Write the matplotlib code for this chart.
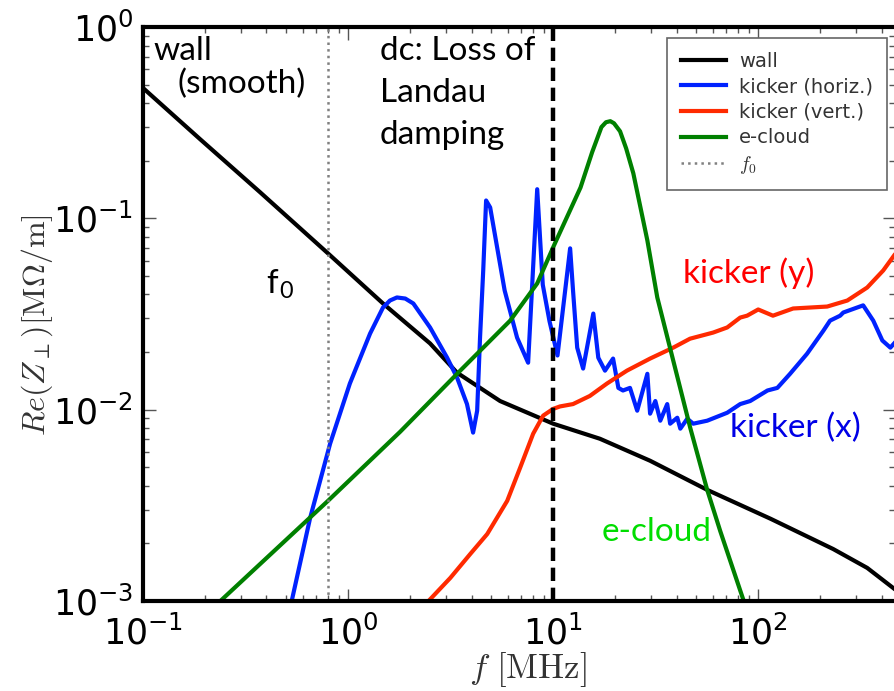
import matplotlib
matplotlib.use('Agg')
import matplotlib.pyplot as plt

plt.rcParams['mathtext.fontset'] = 'cm'
plt.rcParams['axes.unicode_minus'] = False

# frequency in MHz, Re(Z_perp) in MOhm/m
wall_f = [0.1, 0.19, 0.372, 0.798, 1.48, 2.51, 3.40, 5.51, 10.0, 16.9, 29.7, 56.4, 115, 232, 340, 460]
wall_z = [0.480, 0.259, 0.137, 0.0656, 0.0359, 0.0222, 0.0156, 0.0111, 0.00845, 0.00705,
          0.00541, 0.00381, 0.00269, 0.00187, 0.00149, 0.00116]

kick_x_f = [0.533, 0.653, 0.817, 1.02, 1.28, 1.48, 1.60, 1.73, 1.90, 2.08, 2.51, 3.04, 3.40,
            3.80, 4.07, 4.26, 4.40, 4.56, 4.71, 4.93, 5.80, 6.67, 7.55, 8.36, 8.90, 9.60,
            10.5, 12.1, 12.5, 13.1, 14.0, 15.7, 16.6, 17.9, 19.6, 20.8, 21.9, 23.7, 25.7,
            28.8, 29.7, 31.5, 33.3, 36.0, 37.2, 40.3, 41.7, 45.1, 48.2, 56.4, 70.6, 81.7,
            91.4, 111, 124, 143, 173, 208, 224, 251, 260, 325, 364, 403, 441, 460]
kick_x_z = [0.00102, 0.00272, 0.00664, 0.0137, 0.0250, 0.0342, 0.0372, 0.0386, 0.0381, 0.0359,
            0.0269, 0.0187, 0.0147, 0.0107, 0.00759, 0.00988, 0.0238, 0.0534, 0.124, 0.114,
            0.0420, 0.0238, 0.0176, 0.142, 0.0450, 0.0290, 0.0192, 0.0697, 0.0420, 0.0211,
            0.0164, 0.0318, 0.0187, 0.0160, 0.0185, 0.0130, 0.0126, 0.0130, 0.00988, 0.0154,
            0.00953, 0.0111, 0.00876, 0.0107, 0.00845, 0.00908, 0.00796, 0.00897, 0.00845,
            0.00876, 0.00964, 0.0107, 0.0111, 0.0126, 0.0130, 0.0154, 0.0196, 0.0259, 0.0292,
            0.0310, 0.0322, 0.0351, 0.0292, 0.0230, 0.0211, 0.0222]

kick_y_f = [2.51, 3.15, 3.94, 4.77, 5.97, 6.90, 7.99, 8.94, 10.0, 10.8, 12.5, 15.1, 18.3,
            22.9, 29.7, 38.5, 46.5, 60.3, 70.6, 81.7, 88.3, 100, 118, 148, 217, 272, 340,
            407, 460]
kick_y_z = [0.00102, 0.00132, 0.00176, 0.00224, 0.00334, 0.00497, 0.00749, 0.00931, 0.0101,
            0.0104, 0.0107, 0.0118, 0.0137, 0.0160, 0.0185, 0.0211, 0.0235, 0.0253, 0.0269,
            0.0303, 0.0310, 0.0334, 0.0310, 0.0338, 0.0346, 0.0372, 0.0435, 0.0534, 0.0640]

ecloud_f = [0.243, 0.798, 1.795, 3.40, 6.17, 8.36, 10.2, 13.6, 15.5, 17.2, 18.1, 19.0, 19.8,
            21.2, 22.7, 24.6, 28.8, 32.2, 46.6, 56.4, 65.3, 84.5]
ecloud_z = [0.00102, 0.00334, 0.00767, 0.0154, 0.0292, 0.0457, 0.0740, 0.145, 0.222, 0.300,
            0.318, 0.322, 0.314, 0.285, 0.232, 0.172, 0.0767, 0.0386, 0.00805, 0.00381,
            0.00232, 0.00102]

f0 = 0.8        # revolution frequency
f_dc = 10.0     # loss of Landau damping

fig = plt.figure(figsize=(8.94, 6.91), dpi=100)
ax = fig.add_axes([0.16, 0.1302, 0.8412, 0.8307])

ax.plot(wall_f, wall_z, color='black', lw=3, label='wall')
ax.plot(kick_x_f, kick_x_z, color='#0022ff', lw=3, label='kicker (horiz.)')
ax.plot(kick_y_f, kick_y_z, color='#ff2a00', lw=3, label='kicker (vert.)')
ax.plot(ecloud_f, ecloud_z, color='#008000', lw=3, label='e-cloud')
ax.axvline(f0, color='#808080', ls=':', lw=1.8, label='$f_0$')
ax.axvline(f_dc, color='black', ls=(0, (3, 1.5)), lw=3.2, zorder=5)

ax.set_xscale('log')
ax.set_yscale('log')
ax.set_xlim(0.1, 465)
ax.set_ylim(1e-3, 1)

for s in ax.spines.values():
    s.set_linewidth(3)
ax.tick_params(which='both', direction='in', top=True, right=True, color='#555555')
ax.tick_params(which='major', length=9, width=1, labelsize=25, pad=7)
ax.tick_params(which='minor', length=4.5, width=1)
ax.tick_params(axis='x', which='major', pad=10)

ax.set_xlabel(r'$f\ [\mathrm{MHz}]$', fontsize=25, color='#333333')
ax.set_ylabel(r'$Re(Z_\perp)[\mathrm{M}\Omega/\mathrm{m}]$', fontsize=23, color='#333333')
ax.xaxis.set_label_coords(0.511, -0.085)
ax.yaxis.set_label_coords(-0.117, 0.48)

leg = ax.legend(loc='upper right', bbox_to_anchor=(0.989, 0.981), borderaxespad=0,
                fontsize=14, labelspacing=0.34, handlelength=2.3, handletextpad=0.7,
                borderpad=0.7, fancybox=False, framealpha=1, labelcolor='#333333')
leg.get_frame().set_edgecolor('#666666')
leg.get_frame().set_linewidth(1.2)

# region notes
note = dict(fontsize=24, family='Lato')
ax.text(0.112, 0.672, 'wall', color='black', **note)
ax.text(0.1466, 0.451, '(smooth)', color='black', **note)
ax.text(1.43, 0.672, 'dc: Loss of', color='black', **note)
ax.text(1.43, 0.405, 'Landau', color='black', **note)
ax.text(1.43, 0.244, 'damping', color='black', **note)
ax.text(0.398, 0.0405, r'f$_\mathregular{0}$', color='black', **note)
ax.text(43.1, 0.0457, 'kicker (y)', color='#ff0000', **note)
ax.text(73.0, 0.00722, 'kicker (x)', color='#0000e6', **note)
ax.text(17.3, 0.00206, 'e-cloud', color='#00dd00', **note)

fig.savefig('out.png', dpi=100)
